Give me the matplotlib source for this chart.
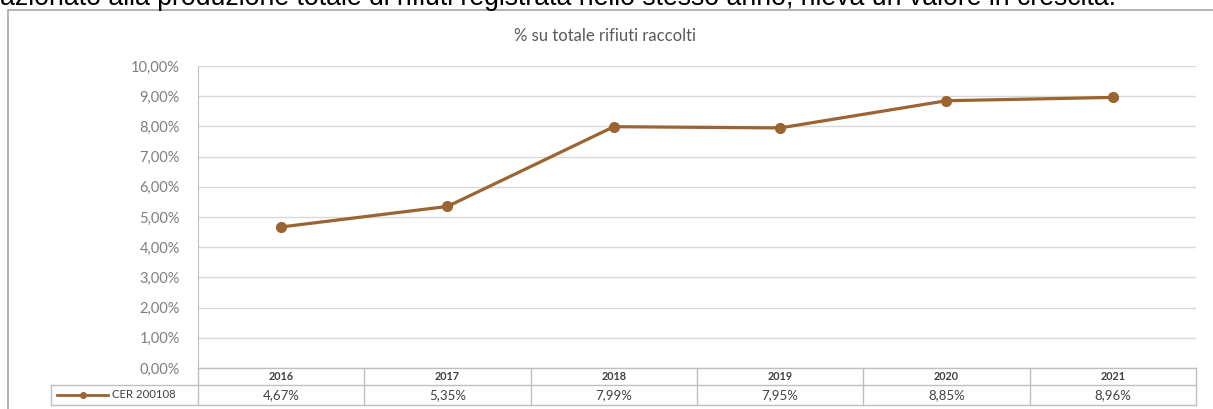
import matplotlib
matplotlib.use("Agg")
import matplotlib.pyplot as plt
import matplotlib.transforms as mtransforms
from matplotlib.lines import Line2D
from matplotlib.patches import Rectangle

# dati
years = ["2016", "2017", "2018", "2019", "2020", "2021"]
values = [4.67, 5.35, 7.99, 7.95, 8.85, 8.96]
value_labels = ["4,67%", "5,35%", "7,99%", "7,95%", "8,85%", "8,96%"]
series_name = "CER 200108"
y_ticks = [0, 1, 2, 3, 4, 5, 6, 7, 8, 9, 10]
chart_title = "% su totale rifiuti raccolti"
doc_text = "azionato alla produzione totale di rifiuti registrata nello stesso anno, rileva un valore in crescita."

W, H = 1213, 409
LINE_C = "#9B6432"
GRID_C = "#D9D9D9"
BORDER_C = "#BFBFBF"
TEXT_C = "#7F7F7F"
FONT = ["Lato", "DejaVu Sans"]

fig = plt.figure(figsize=(W / 100, H / 100), dpi=100)

# testo del documento tagliato in alto (come nello screenshot)
fig.text(0 / W, 1 - 5 / H, doc_text, fontsize=19.2, family=["Liberation Sans"],
         color="black", ha="left", va="baseline")

# cornice del grafico
fig.patches.append(Rectangle((8 / W, -0.1), 1.2, 1.1 - 10 / H, transform=fig.transFigure,
                             fill=False, edgecolor="#A6A6A6", lw=1.2))

fig.text(605 / W, 1 - 36 / H, chart_title, fontsize=12, family=FONT,
         color="#595959", ha="center", va="center")

ax = fig.add_axes([198 / W, (H - 368) / H, 998 / W, 302 / H])
x = list(range(len(years)))
ax.plot(x, values, color=LINE_C, lw=2.3, marker="o", ms=7, zorder=3)

ax.set_xlim(-0.5, len(years) - 0.5)
ax.set_ylim(0, 10)
ax.set_yticks(y_ticks)
ax.set_yticklabels([f"{v:.2f}".replace(".", ",") + "%" for v in y_ticks],
                   fontsize=10.5, color=TEXT_C, family=FONT)
ax.tick_params(axis="y", length=0, pad=13)
ax.set_xticks([])
ax.grid(axis="y", color=GRID_C, lw=1)
for s in ["top", "right", "bottom"]:
    ax.spines[s].set_visible(False)
ax.spines["left"].set_color(BORDER_C)

# tabella dati sotto il grafico
trans = mtransforms.blended_transform_factory(ax.transData, ax.transAxes)
row1 = -17 / 302
row2 = -37 / 302
leg_left = -147 / 998
kw = dict(color=BORDER_C, lw=1, clip_on=False)
ax.plot([-0.5, len(years) - 0.5], [0, 0], transform=trans, **kw)
ax.plot([leg_left, 1], [row1, row1], transform=ax.transAxes, **kw)
ax.plot([leg_left, 1], [row2, row2], transform=ax.transAxes, **kw)
ax.plot([leg_left, leg_left], [row1, row2], transform=ax.transAxes, **kw)
for i in range(len(years) + 1):
    ax.plot([i - 0.5, i - 0.5], [0, row2], transform=trans, **kw)

for i, (yr, lab) in enumerate(zip(years, value_labels)):
    ax.text(i, row1 / 2, yr, transform=trans, ha="center", va="center",
            fontsize=7.8, color="#404040", family=FONT, fontweight="bold")
    ax.text(i, (row1 + row2) / 2, lab, transform=trans, ha="center", va="center",
            fontsize=9.5, color="#404040", family=FONT)

# legenda nella cella
ax.add_line(Line2D([-141 / 998, -90 / 998], [(row1 + row2) / 2] * 2, transform=ax.transAxes,
                   color=LINE_C, lw=2, clip_on=False))
ax.add_line(Line2D([-115 / 998], [(row1 + row2) / 2], transform=ax.transAxes,
                   color=LINE_C, marker="o", ms=4, clip_on=False))
ax.text(-86 / 998, (row1 + row2) / 2, series_name, transform=ax.transAxes, ha="left",
        va="center", fontsize=8.2, color="#404040", family=FONT)

fig.savefig("out.png", dpi=100)
